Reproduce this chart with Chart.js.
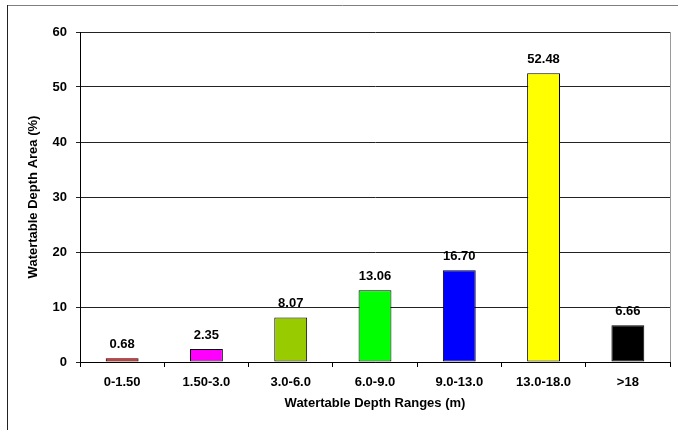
<!DOCTYPE html>
<html>
<head>
<meta charset="utf-8">
<script src="https://cdn.jsdelivr.net/npm/chart.js@4/dist/chart.umd.min.js"></script>
<style>
  html, body { margin: 0; padding: 0; background: #fff; overflow: hidden; }
  #wrap { width: 678px; height: 430px; position: relative; }
</style>
</head>
<body>
<div id="wrap"><canvas id="c" width="678" height="430"></canvas></div>
<script>
// Share of area by watertable depth class
const depthRanges = ['0-1.50', '1.50-3.0', '3.0-6.0', '6.0-9.0', '9.0-13.0', '13.0-18.0', '>18'];
const areaPercent = [0.68, 2.35, 8.07, 13.06, 16.70, 52.48, 6.66];
const barColors = ['#FF0000', '#FF00FF', '#99CC00', '#00FF00', '#0000FF', '#FFFF00', '#000000'];
const yTicks = [0, 10, 20, 30, 40, 50, 60];

const FONT = 'Liberation Sans, Arial, Helvetica, sans-serif';

// Outer frame and plot-area right edge
const framePlugin = {
  id: 'frame',
  beforeDraw(chart) {
    const ctx = chart.ctx;
    ctx.save();
    ctx.lineWidth = 1;
    ctx.strokeStyle = '#7f7f7f';
    ctx.beginPath();
    ctx.moveTo(7, 5.5);
    ctx.lineTo(678, 5.5);
    ctx.stroke();
    ctx.strokeStyle = '#222';
    ctx.beginPath();
    ctx.moveTo(7.5, 5);
    ctx.lineTo(7.5, 430);
    ctx.stroke();
    ctx.restore();
  },
  afterDatasetsDraw(chart) {
    const ctx = chart.ctx;
    const a = chart.chartArea;
    ctx.save();
    ctx.strokeStyle = '#9a9a9a';
    ctx.lineWidth = 1;
    const x = Math.round(a.right) + 0.5;
    ctx.beginPath();
    ctx.moveTo(x, a.top);
    ctx.lineTo(x, a.bottom);
    ctx.stroke();
    ctx.restore();
  }
};

// Value labels above each bar
const valueLabels = {
  id: 'valueLabels',
  afterDatasetsDraw(chart) {
    const ctx = chart.ctx;
    const meta = chart.getDatasetMeta(0);
    ctx.save();
    ctx.font = 'bold 13px ' + FONT;
    ctx.fillStyle = '#000';
    ctx.textAlign = 'center';
    ctx.textBaseline = 'middle';
    meta.data.forEach((bar, i) => {
      ctx.fillText(areaPercent[i].toFixed(2), bar.x, bar.y - 14);
    });
    ctx.restore();
  }
};

new Chart(document.getElementById('c'), {
  type: 'bar',
  data: {
    labels: depthRanges,
    datasets: [{
      data: areaPercent,
      backgroundColor: barColors,
      borderColor: '#000',
      borderWidth: 1,
      borderSkipped: false,
      barPercentage: 0.39,
      categoryPercentage: 1.0
    }]
  },
  options: {
    responsive: false,
    animation: false,
    devicePixelRatio: 1,
    layout: { padding: { left: 0, right: 8, top: 32, bottom: 0 } },
    plugins: {
      legend: { display: false },
      tooltip: { enabled: false }
    },
    scales: {
      x: {
        grid: {
          drawOnChartArea: false,
          drawTicks: true,
          tickLength: 5,
          color: '#000',
          offset: true
        },
        border: { color: '#000', width: 1 },
        ticks: {
          color: '#000',
          font: { family: FONT, size: 13, weight: 'bold' },
          padding: 8,
          maxRotation: 0
        },
        title: {
          display: true,
          text: 'Watertable Depth Ranges (m)',
          color: '#000',
          font: { family: FONT, size: 13, weight: 'bold' },
          padding: { top: 0, bottom: 19 }
        },
        afterFit(scale) { scale.height = 68; }
      },
      y: {
        min: 0,
        max: 60,
        afterBuildTicks(scale) { scale.ticks = yTicks.map(v => ({ value: v })); },
        grid: {
          color: '#222',
          tickLength: 4,
          lineWidth: 1
        },
        border: { color: '#000', width: 1 },
        ticks: {
          color: '#000',
          font: { family: FONT, size: 13, weight: 'bold' },
          padding: 9
        },
        title: {
          display: true,
          text: 'Watertable Depth Area (%)',
          color: '#000',
          font: { family: FONT, size: 13, weight: 'bold' },
          padding: { top: 26, bottom: 0 }
        },
        afterFit(scale) { scale.width = 80; }
      }
    }
  },
  plugins: [framePlugin, valueLabels]
});
</script>
</body>
</html>
